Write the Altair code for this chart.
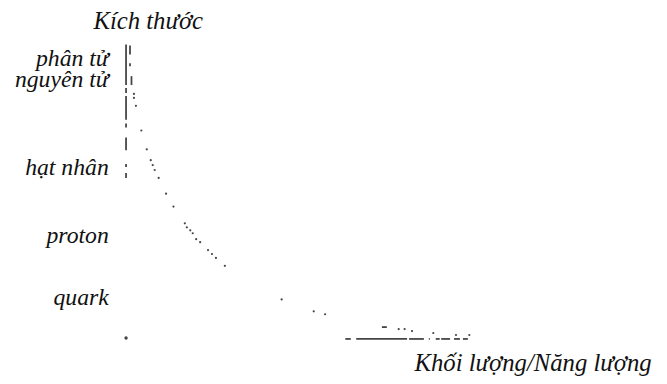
import altair as alt
import pandas as pd

# --- data (schematic: energy on x, size on y; origin at 0,0) ---
# vertical "size" axis drawn as broken segments at energy 0
vseg_x = [0, 0, 0, 0, 0, 0, 0, 4, 4, 5.5]
vseg_top = [298, 254, 246, 218, 204, 168, 177, 297, 279, 266]
vseg_bot = [257, 249, 222, 214, 191, 163, 174, 288, 276, 257]

# horizontal "energy" axis drawn as broken segments at size 0
hseg_x1 = [222, 233, 286.5, 306.5, 313.5, 319, 332, 341, 259]
hseg_x2 = [227.5, 284.5, 301.5, 307.5, 317.5, 328, 338, 346, 264]
hseg_y = [0, 0, 0, 0, 0, 0, 0, 0, 12]

# scattered points along the size-energy curve
pt_energy = [8, 8, 10, 15.5, 21, 25, 27, 29, 33, 40.5, 48, 59.5, 61.5, 65,
             67.5, 71, 75, 83, 87, 91, 100, 157.5, 190, 201.5, 276, 282,
             289.5, 311, 334, 347.5, 0]
pt_size = [248, 244, 236, 211, 192, 181, 176, 171, 163, 147, 134, 117, 113,
           110, 107, 101, 98, 90, 86, 82, 74, 40, 28, 25, 10, 10, 8, 6, 4,
           4, 1]
pt_kind = ["dot"] * 30 + ["origin"]

# scale levels on the size axis
level_names = ["phân tử", "nguyên tử", "hạt nhân", "proton", "quark"]
level_size = [276.5, 254.7, 165.7, 96.7, 34.7]

y_title = "Kích thước"
x_title = "Khối lượng/Năng lượng"

# --- tables ---
vseg = pd.DataFrame({"x": vseg_x, "y": vseg_top, "y2": vseg_bot})
hseg = pd.DataFrame({"x": hseg_x1, "x2": hseg_x2, "y": hseg_y})
pts = pd.DataFrame({"x": pt_energy, "y": pt_size, "kind": pt_kind})
levels = pd.DataFrame({"label": level_names, "y": level_size, "x": [-17.5] * 5})
titles = pd.DataFrame({"label": [y_title, x_title], "x": [-33, 292],
                       "y": [314, -32]})

xs = alt.Scale(domain=[-119.5, 531.5], nice=False, zero=False)
ys = alt.Scale(domain=[-35.3, 332.7], nice=False, zero=False)
INK = "#454545"
FONT = "Liberation Serif"

v = alt.Chart(vseg).mark_rule(color=INK, strokeWidth=1.8).encode(
    x=alt.X("x:Q", scale=xs, axis=None),
    y=alt.Y("y:Q", scale=ys, axis=None),
    y2="y2:Q",
)
h = alt.Chart(hseg).mark_rule(color=INK, strokeWidth=1.8).encode(
    x=alt.X("x:Q", scale=xs, axis=None),
    x2="x2:Q",
    y=alt.Y("y:Q", scale=ys, axis=None),
)
p = alt.Chart(pts).mark_circle(color=INK, opacity=1).encode(
    x=alt.X("x:Q", scale=xs, axis=None),
    y=alt.Y("y:Q", scale=ys, axis=None),
    size=alt.Size("kind:N", scale=alt.Scale(domain=["dot", "origin"],
                                             range=[5, 12]), legend=None),
)
lv = alt.Chart(levels).mark_text(align="right", baseline="alphabetic",
                                  font=FONT, fontStyle="italic", fontSize=24,
                                  color="#111").encode(
    x=alt.X("x:Q", scale=xs, axis=None),
    y=alt.Y("y:Q", scale=ys, axis=None),
    text="label:N",
)
tt = alt.Chart(titles).mark_text(align="left", baseline="alphabetic",
                                  font=FONT, fontStyle="italic", fontSize=25,
                                  color="#111").encode(
    x=alt.X("x:Q", scale=xs, axis=None),
    y=alt.Y("y:Q", scale=ys, axis=None),
    text="label:N",
)

chart = alt.layer(v, h, p, lv, tt).properties(
    width=651, height=368,
    autosize=alt.AutoSizeParams(type="none"),
    padding={"left": 0, "top": 0, "right": 8, "bottom": 8},
).configure_view(stroke=None)

chart.save("out.html", embed_options={"renderer": "svg", "actions": False})
